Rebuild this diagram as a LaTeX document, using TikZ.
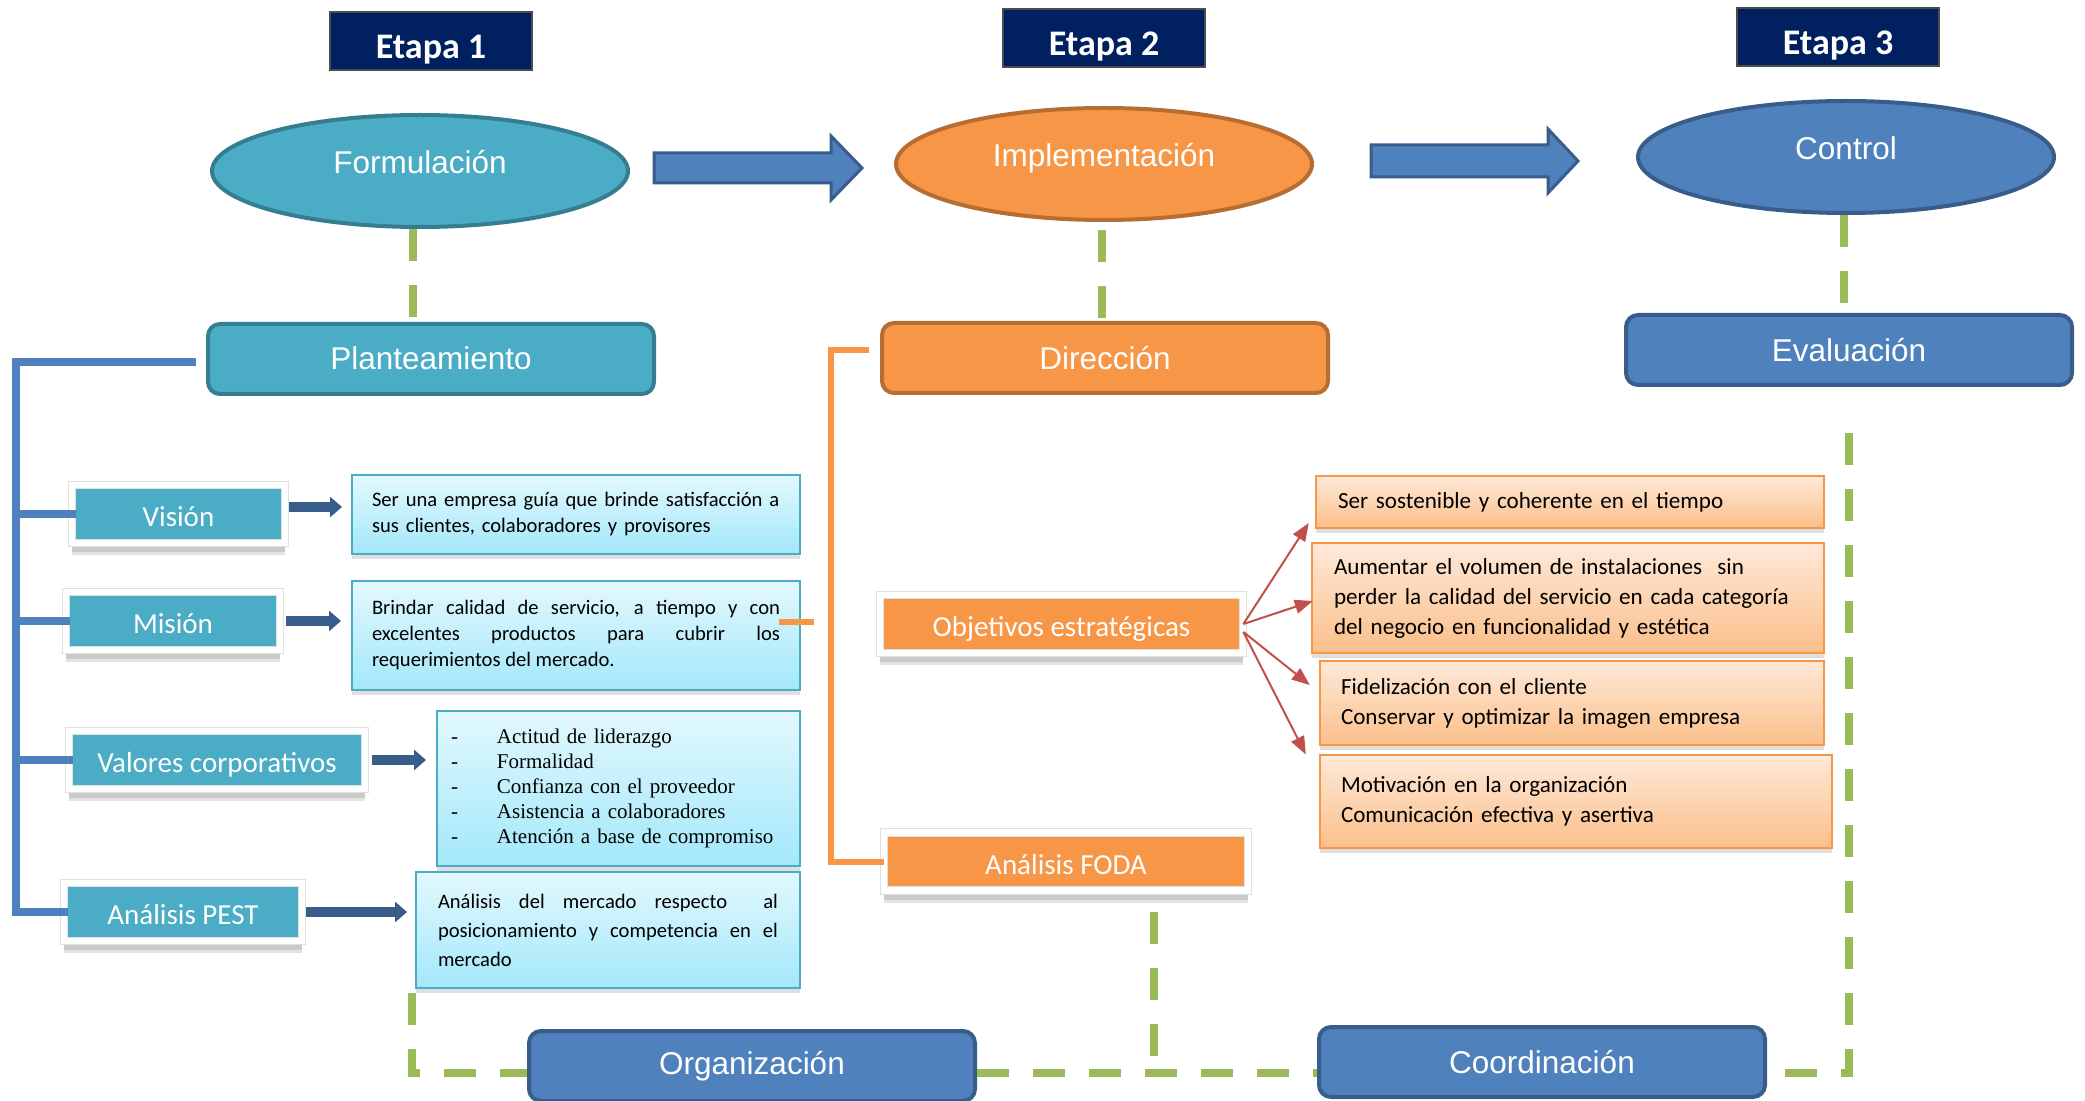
\documentclass[tikz,border=0pt]{standalone}
\usepackage{fontspec}
\setmainfont{Carlito}
\newfontfamily\arialf{Liberation Sans}
\newfontfamily\timesf{Liberation Serif}
\usetikzlibrary{shapes.geometric,arrows.meta,shadows,calc}
\definecolor{navy}{HTML}{002060}
\definecolor{tealf}{HTML}{4BACC6}
\definecolor{teald}{HTML}{357D91}
\definecolor{orf}{HTML}{F79646}
\definecolor{ord}{HTML}{B66D31}
\definecolor{blf}{HTML}{4F81BD}
\definecolor{bld}{HTML}{385D8A}
\definecolor{grn}{HTML}{9BBB59}
\definecolor{redc}{HTML}{C0504D}
\definecolor{lbtop}{HTML}{E3F8FE}
\definecolor{lbbot}{HTML}{A3E8FA}
\definecolor{pctop}{HTML}{FEE9D9}
\definecolor{pcbot}{HTML}{FBBF8A}
\newcommand{\nohyph}{\hyphenpenalty=10000\relax}
\tikzset{
  etapa/.style={fill=navy, draw=black!70, line width=0.6pt, minimum width=101pt, minimum height=29pt,
    text=white, font=\fontsize{18}{20}\selectfont\bfseries, inner sep=0pt,
    text height=17.2pt, text depth=0pt},
  oval/.style={ellipse, minimum width=208pt, minimum height=56pt, line width=2pt, text=white,
    font=\arialf\fontsize{15.75}{18}\selectfont, inner sep=0pt, text height=2.5pt, text depth=0pt},
  mainbox/.style={rounded corners=6pt, line width=2pt, minimum width=223pt, minimum height=35pt,
    text=white, font=\arialf\fontsize{15.75}{18}\selectfont, inner sep=0pt},
  lbl/.style={fill=tealf, draw=black!12, line width=0.4pt, double=white, double distance=3.4pt,
    minimum height=29pt, text=white,
    font=\fontsize{14.5}{16}\selectfont, inner sep=0pt, text height=12.9pt, text depth=0pt,
    drop shadow={opacity=0.22, shadow xshift=0pt, shadow yshift=-6pt},
    drop shadow={opacity=0.25, shadow xshift=0pt, shadow yshift=-4.5pt}},
  lbtext/.style={top color=lbtop, bottom color=lbbot, draw=tealf, line width=1pt,
    font=\fontsize{10.3}{13}\selectfont\nohyph, align=left,
    drop shadow={opacity=0.25, shadow xshift=0pt, shadow yshift=-2.5pt}},
  peach/.style={top color=pctop, bottom color=pcbot, draw=orf, line width=1.2pt,
    font=\fontsize{11.55}{15}\selectfont\nohyph, align=left,
    drop shadow={opacity=0.25, shadow xshift=0pt, shadow yshift=-2.5pt}},
  bigarrow/.style={fill=blf, draw=bld, line width=1.5pt},
  smarrow/.style={draw=bld, line width=5pt, -{Triangle[length=6pt,width=10pt]}},
  redarr/.style={draw=redc, line width=1pt, -{Triangle[length=9pt,width=7pt]}},
  greendash/.style={draw=grn, line width=4pt, dash pattern=on 16pt off 12pt},
  bluetree/.style={draw=blf, line width=3.75pt},
  orangetree/.style={draw=orf, line width=3pt}
}
\begin{document}
\begin{tikzpicture}[x=0.5pt,y=-0.5pt]
\useasboundingbox (0,0) rectangle (2085,1101);

% Stage headers
\node[etapa] (e1) at (431,41) {Etapa 1};
\node[etapa] (e2) at (1104,38) {Etapa 2};
\node[etapa] (e3) at (1838,37) {Etapa 3};

% Ellipses
\node[oval, fill=tealf, draw=teald] (form) at (420,171) {Formulación};
\node[oval, fill=orf, draw=ord] (impl) at (1104,164) {Implementación};
\node[oval, fill=blf, draw=bld] (ctrl) at (1846,157) {Control};

% Block arrows
\draw[bigarrow] (654,153) -- (831,153) -- (831,136) -- (862,168) -- (831,200) -- (831,183) -- (654,183) -- cycle;
\draw[bigarrow] (1371,145) -- (1548,145) -- (1548,129) -- (1578,161) -- (1548,193) -- (1548,177) -- (1371,177) -- cycle;

% Main boxes
\node[mainbox, fill=tealf, draw=teald] (plan) at (431,359) {\raisebox{1pt}{Planteamiento}};
\node[mainbox, fill=orf, draw=ord] (dir) at (1105,358) {\raisebox{0.5pt}{Dirección}};
\node[mainbox, fill=blf, draw=bld] (eval) at (1849,350) {\raisebox{0.5pt}{Evaluación}};
\node[mainbox, fill=blf, draw=bld] (org) at (752,1066) {Organización};
\node[mainbox, fill=blf, draw=bld] (coord) at (1542,1062) {Coordinación};

% Label boxes
\node[lbl, minimum width=106.5pt] (vis) at (178.5,514) {Visión};
\node[lbl, minimum width=107pt] (mis) at (173,621) {Misión};
\node[lbl, minimum width=148pt] (val) at (217,760) {Valores corporativos};
\node[lbl, minimum width=119pt] (pest) at (183,912) {Análisis PEST};
\node[lbl, fill=orf, minimum width=181.5pt] (obj) at (1061.5,624) {Objetivos estratégicas};
\node[lbl, fill=orf, minimum width=182pt] (foda) at (1066,861.5) {Análisis FODA};

% Text boxes (left)
\node[lbtext, text width=204pt, inner xsep=10pt, minimum height=39.5pt] (vt) at (576,514.5)
  {Ser una empresa guía que brinde satisfacción a\\sus clientes, colaboradores y provisores};
\node[lbtext, align=justify, text width=204pt, inner xsep=10pt, minimum height=54.5pt] (mt) at (576,635.5)
  {Brindar calidad de servicio, a tiempo y con\linebreak excelentes productos para cubrir los\linebreak requerimientos del mercado.};
\node[lbtext, font=\timesf\fontsize{10.5}{12.5}\selectfont, text width=167.5pt, inner xsep=7pt, minimum height=77.5pt] (vlt) at (618.5,788.5)
  {\makebox[23pt][l]{-}Actitud de liderazgo\\
   \makebox[23pt][l]{-}Formalidad\\
   \makebox[23pt][l]{-}Confianza con el proveedor\\
   \makebox[23pt][l]{-}Asistencia a colaboradores\\
   \makebox[23pt][l]{-}Atención a base de compromiso};
\node[lbtext, align=justify, font=\fontsize{10.3}{14.5}\selectfont\nohyph, text width=170pt, inner xsep=11pt, minimum height=58pt] (pt) at (608,930)
  {Análisis del mercado respecto~ al\linebreak posicionamiento y competencia en el\linebreak mercado};

% Text boxes (right)
\node[peach, text width=232pt, inner xsep=11pt, minimum height=26pt] (r1) at (1570,502)
  {Ser sostenible y coherente en el tiempo};
\node[peach, text width=234pt, inner xsep=11pt, minimum height=55pt] (r2) at (1568,598)
  {Aumentar el volumen de instalaciones~ sin\\perder la calidad del servicio en cada categoría\\del negocio en funcionalidad y estética};
\node[peach, text width=231pt, inner xsep=10.5pt, minimum height=42pt] (r3) at (1572,703)
  {Fidelización con el cliente\\Conservar y optimizar la imagen empresa};
\node[peach, text width=235pt, inner xsep=10.5pt, minimum height=46.5pt] (r4) at (1576,801.5)
  {Motivación en la organización\\Comunicación efectiva y asertiva};

% Small blue arrows
\draw[smarrow, transform canvas={yshift=3.5pt}, shorten <=2pt, shorten >=4.5pt] (vis.east) -- (vis.east -| vt.west);
\draw[smarrow, shorten <=3pt, shorten >=5pt] (mis.east) -- (mis.east -| mt.west);
\draw[smarrow, shorten <=3.5pt, shorten >=5pt] (val.east) -- (val.east -| vlt.west);
\draw[smarrow, shorten <=2pt, shorten >=4pt] (pest.east) -- (pest.east -| pt.west);

% Red arrows
\draw[redarr] (obj.east) -- ([xshift=-3pt,yshift=-10.5pt]r1.west);
\draw[redarr] (obj.east) -- ([xshift=1pt,yshift=-1.5pt]r2.west);
\draw[redarr] ([yshift=-4pt]obj.east) -- ([xshift=-4.5pt,yshift=9pt]r3.west);
\draw[redarr] ([yshift=-4pt]obj.east) -- ([xshift=-6.5pt,yshift=23.5pt]r4.west);

% Blue tree
\coordinate (trunk) at (16,0);
\draw[bluetree] ([xshift=-5pt,yshift=-1.5pt]plan.west) -| (trunk |- pest.west) -- ([xshift=2pt]pest.west);
\draw[bluetree] (trunk |- vis.west) -- ([xshift=2pt]vis.west);
\draw[bluetree] (trunk |- mis.west) -- ([xshift=2pt]mis.west);
\draw[bluetree] (trunk |- val.west) -- ([xshift=2pt]val.west);

% Orange tree
\coordinate (otrunk) at (831,0);
\draw[orangetree] ([xshift=-5.5pt,yshift=4pt]dir.west) -| (otrunk |- foda.west) -- (foda.west);
\coordinate (stubA) at (779,622);
\coordinate (stubB) at (814,622);
\draw[orangetree] (stubA) -- (stubB);

% Green dashed connectors
\coordinate (g1) at ([xshift=-3.5pt]form.south);
\draw[greendash] (g1) -- (g1 |- plan.north);
\coordinate (g2) at ([xshift=-1pt]impl.south);
\draw[greendash, dash phase=-4pt] (g2) -- (g2 |- dir.north);
\coordinate (g3) at ([xshift=-1pt]ctrl.south);
\draw[greendash] (g3) -- (g3 |- eval.north);
\coordinate (g4) at ([xshift=-1.5pt,yshift=-2pt]pt.south west);
\coordinate (busL) at ([yshift=-3.5pt]org.west);
\draw[greendash] (g4) |- (busL);
\coordinate (busR) at ([xshift=0pt,yshift=-3.5pt]org.east);
\draw[greendash] (busR) -- (busR -| coord.west);
\coordinate (g5) at ([xshift=44pt,yshift=-10.5pt]foda.south);
\draw[greendash] (g5) -- (g5 |- busR);
\coordinate (g6) at ([xshift=9pt,yshift=-5.5pt]coord.east);
\coordinate (g7) at ([yshift=-20.5pt]eval.south);
\draw[greendash] (g6) -| (g7);
\end{tikzpicture}
\end{document}
